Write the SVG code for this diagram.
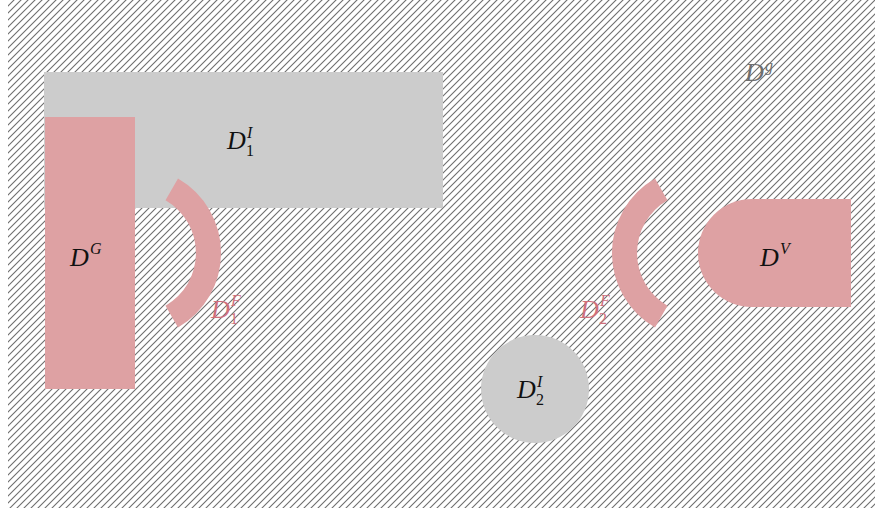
<svg xmlns="http://www.w3.org/2000/svg" width="875" height="513" viewBox="0 0 875 513">
  <defs>
    <pattern id="hatch" patternUnits="userSpaceOnUse" width="7" height="7">
      <path d="M-1,8 L8,-1 M-1,1 L1,-1 M6,8 L8,6" stroke="#6e6e6e" stroke-width="1.1" fill="none"/>
    </pattern>
  </defs>
  <style>
    .bg { fill: url(#hatch); }
    .grey { fill: #cccccc; }
    .pink { fill: #dea1a3; }
    text { font-family: "Liberation Serif", "DejaVu Serif", serif; fill: #111; }
    .lbl { font-style: italic; font-size: 26px; }
    .sup { font-style: italic; font-size: 16px; }
    .sub { font-size: 16px; }
    .red { fill: #d0707c; }
    .dim { fill: #6f6f6f; }
  </style>

  <!-- hatched domain -->
  <rect class="bg" x="8" y="0" width="867" height="508"/>

  <g id="D1I">
    <rect class="grey" x="44" y="72" width="399" height="136"/>
    <text class="lbl" x="227" y="149">D</text>
    <text class="sup" x="247" y="138">I</text>
    <text class="sub" x="246" y="156">1</text>
  </g>

  <g id="DG">
    <rect class="pink" x="45" y="117" width="90" height="272"/>
    <text class="lbl" x="70" y="266">D</text>
    <text class="sup" x="90" y="254">G</text>
  </g>

  <g id="D1F">
    <!-- annular sector, centre (135,253), radii 61/86, ±60° -->
    <path class="pink" d="M178,178.5 A86,86 0 0 1 178,327.5 L165.5,305.8 A61,61 0 0 0 165.5,200.2 Z"/>
    <text class="lbl red" x="211" y="318">D</text>
    <text class="sup red" x="231" y="306">F</text>
    <text class="sub red" x="230" y="324">1</text>
  </g>

  <g id="D2F">
    <!-- mirrored sector, centre (698,253) -->
    <path class="pink" d="M655,178.5 A86,86 0 0 0 655,327.5 L667.5,305.8 A61,61 0 0 1 667.5,200.2 Z"/>
    <text class="lbl red" x="580" y="318">D</text>
    <text class="sup red" x="600" y="306">F</text>
    <text class="sub red" x="599" y="324">2</text>
  </g>

  <g id="DV">
    <path class="pink" d="M752,199 L851,199 L851,307 L752,307 A54,54 0 0 1 752,199 Z"/>
    <text class="lbl" x="760" y="266">D</text>
    <text class="sup" x="780" y="254">V</text>
  </g>

  <g id="D2I">
    <circle class="grey" cx="535" cy="389" r="54"/>
    <text class="lbl" x="517" y="398">D</text>
    <text class="sup" x="537" y="387">I</text>
    <text class="sub" x="536" y="405">2</text>
  </g>

  <g id="Dg">
    <text class="lbl dim" x="745" y="81">D</text>
    <text class="sup dim" x="765" y="71">g</text>
  </g>
</svg>
